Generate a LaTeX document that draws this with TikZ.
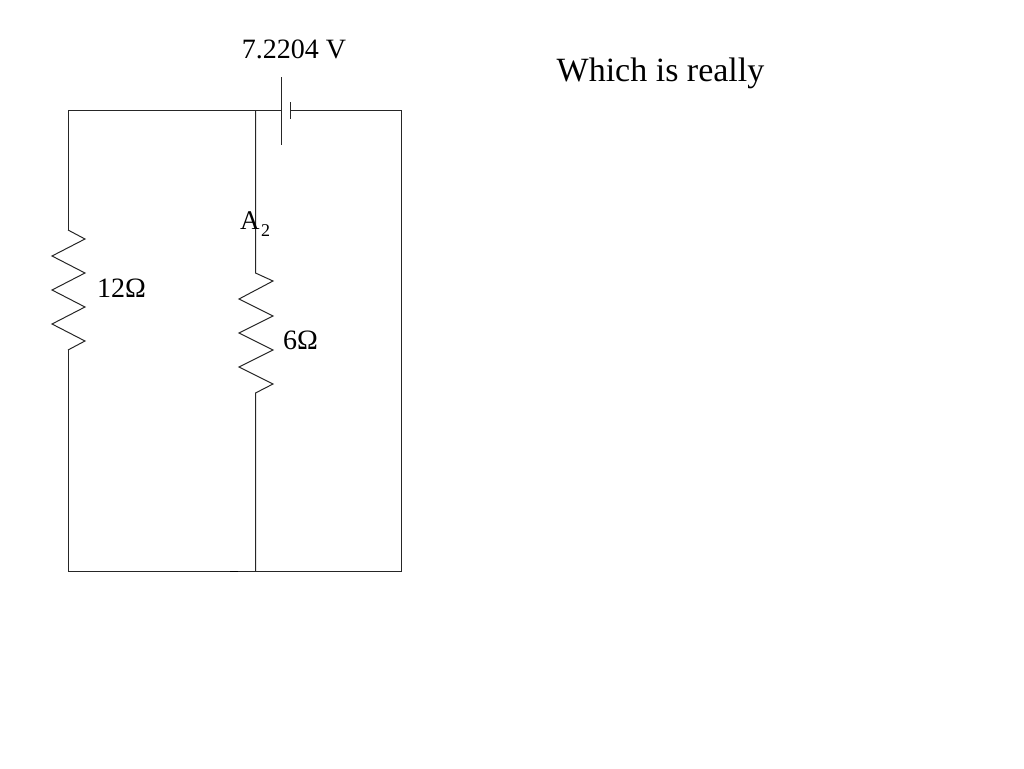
\documentclass[tikz,border=0pt]{standalone}
\usepackage{fontspec}
\setmainfont{Liberation Serif}
\tikzset{
	wire/.style={line width=1pt,black!85},
	lbl/.style={inner sep=0pt,font=\fontsize{28}{32}\selectfont},
}
\begin{document}
\begin{tikzpicture}[x=1pt,y=-1pt]
		\useasboundingbox (0,0) rectangle (1024,768);

		\coordinate (tl) at (68,110.5);
		\coordinate (tm) at (255.5,110.5);
		\coordinate (tr) at (401,110.5);
		\coordinate (bl) at (68,571);
		\coordinate (bm) at (255.5,571);
		\coordinate (br) at (401,571);
		\coordinate (plus) at (281.5,110.5);
		\coordinate (minus) at (290,110.5);

		% outer loop and battery
		\draw[wire] (plus) -- (tl) -- (68,230);
		\draw[wire] (minus) -- (tr) -- (br) -- (bl) -- (68,350);
		\draw[wire] (281.5,77) -- (281.5,145);
		\draw[wire] (290,102) -- (290,119);
		\draw[line width=1.2pt] (230,571.5) -- (238,571.5);

		% resistors
		\draw[wire] (68,230) -- (85,239) -- (52,256) -- (85,273) -- (52,290) -- (85,307) -- (52,324) -- (85,341) -- (68,350);
		\draw[wire] (tm) -- (255.5,273) -- (273,281) -- (239,299) -- (273,316) -- (239,333) -- (273,350) -- (239,367) -- (273,384) -- (255.5,393) -- (bm);

		\node[lbl] (volt) at (294,49) {7.2204 V};
		\node[lbl,font=\fontsize{34}{38}\selectfont] (really) at (660.5,73) {Which is really};
		\node[lbl,anchor=west] (rleft) at (97,288) {12Ω};
		\node[lbl,anchor=west] (rmid) at (283,340) {6Ω};
		\node[lbl,anchor=base west,font=\fontsize{27}{30}\selectfont] (amp) at (240,229) {A\kern1.5pt\raisebox{-7pt}{\fontsize{18}{20}\selectfont 2}};
	\end{tikzpicture}
\end{document}
